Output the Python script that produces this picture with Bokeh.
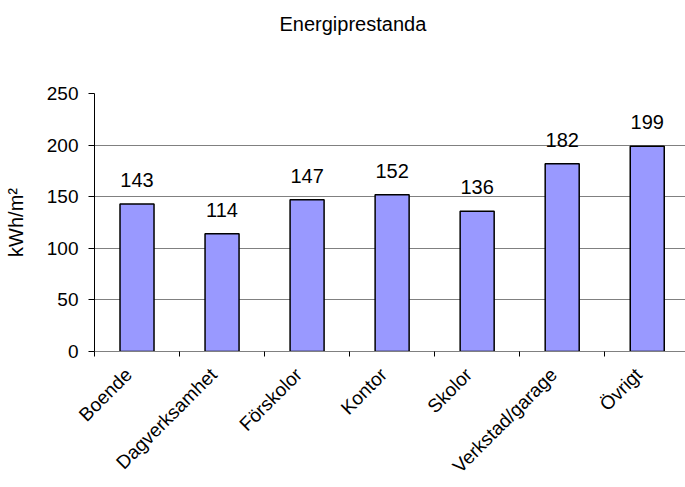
from math import pi

from bokeh.core.properties import value
from bokeh.embed import file_html
from bokeh.models import ColumnDataSource, FixedTicker, Range1d, Title
from bokeh.plotting import figure
from bokeh.resources import INLINE

# Energy performance per building category (kWh/m²)
categories = ["Boende", "Dagverksamhet", "Förskolor", "Kontor", "Skolor",
              "Verkstad/garage", "Övrigt"]
values = [143, 114, 147, 152, 136, 182, 199]
y_ticks = [0, 50, 100, 150, 200, 250]

FONT = "Liberation Sans"

centers = [i + 0.5 for i in range(len(categories))]
src = ColumnDataSource(dict(
    x=centers,
    top=values,
    label_y=[v + 23 for v in values],
    label=[str(v) for v in values],
))

p = figure(width=685, height=487, output_backend="svg", toolbar_location=None,
           x_range=Range1d(0, 6.95), y_range=Range1d(0, 250),
           min_border_left=94, min_border_right=0, min_border_top=0,
           min_border_bottom=135)

p.title.text = "Energiprestanda"
p.title.align = "left"
p.title.offset = 185
p.title.text_font = FONT
p.title.text_font_size = "20px"
p.title.text_font_style = "normal"
p.title.text_color = "black"
p.title.standoff = 20
p.title.vertical_align = "bottom"

# empty title used as a spacer between the chart title and the frame
spacer = Title(text=" ", text_font_size="1px", standoff=46)
p.add_layout(spacer, "above")

p.vbar(x="x", top="top", width=0.4, source=src, fill_color="#9999FF",
       line_color="black", line_width=1.5)

p.text(x="x", y="label_y", text="label", source=src, text_align="center",
       text_baseline="alphabetic", text_font=value(FONT),
       text_font_size=value("20px"), text_color="black")

p.outline_line_color = None
p.xgrid.grid_line_color = None
p.ygrid.grid_line_color = "#808080"
p.ygrid.grid_line_width = 1

# y axis
p.yaxis.ticker = FixedTicker(ticks=y_ticks)
p.yaxis.axis_label = "kWh/m²"
p.yaxis.axis_label_text_font = FONT
p.yaxis.axis_label_text_font_size = "20px"
p.yaxis.axis_label_text_font_style = "normal"
p.yaxis.axis_label_text_color = "black"
p.yaxis.axis_label_standoff = 17
p.yaxis.major_label_text_font = FONT
p.yaxis.major_label_text_font_size = "19px"
p.yaxis.major_label_text_color = "black"
p.yaxis.major_label_standoff = 10
p.yaxis.major_tick_in = 0
p.yaxis.major_tick_out = 6
p.yaxis.minor_tick_line_color = None
p.yaxis.axis_line_color = "black"
p.yaxis.major_tick_line_color = "black"

# x axis: rotated labels anchored slightly left of each category centre,
# visible tick marks between categories
label_pos = [round(c - 0.1, 2) for c in centers]
p.xaxis.ticker = FixedTicker(ticks=label_pos,
                             minor_ticks=list(range(len(categories) + 1)))
p.xaxis.major_label_overrides = {c: name for c, name in zip(label_pos, categories)}
p.xaxis.major_label_orientation = pi / 4
p.xaxis.major_label_text_font = FONT
p.xaxis.major_label_text_font_size = "19px"
p.xaxis.major_label_text_color = "black"
p.xaxis.major_label_standoff = 15
p.xaxis.major_tick_in = 0
p.xaxis.major_tick_out = 0
p.xaxis.minor_tick_in = 0
p.xaxis.minor_tick_out = 5
p.xaxis.minor_tick_line_color = "black"
p.xaxis.axis_line_color = "#808080"

open("out.html", "w").write(file_html(p, INLINE))
